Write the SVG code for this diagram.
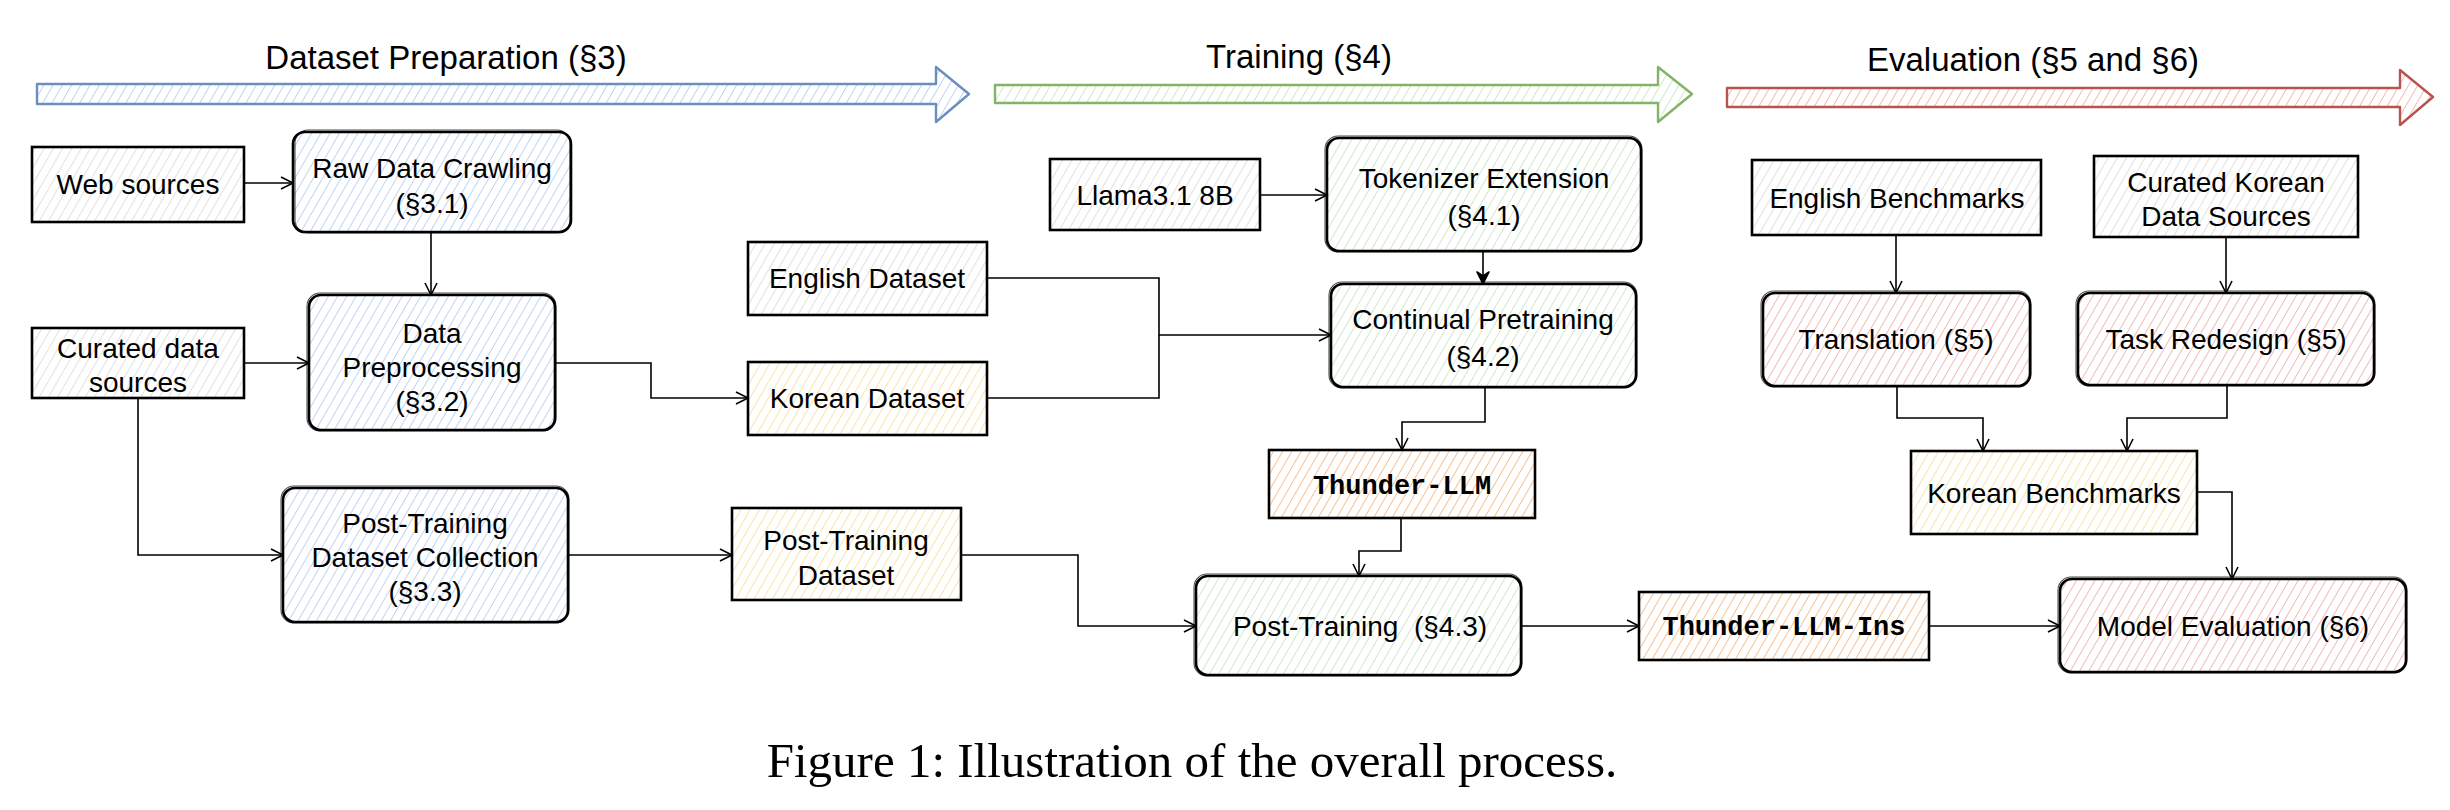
<svg xmlns="http://www.w3.org/2000/svg" width="2450" height="810" viewBox="0 0 2450 810">
<defs>
<pattern id="hGray" patternUnits="userSpaceOnUse" width="8" height="8" patternTransform="rotate(30)"><line x1="0" y1="0" x2="0" y2="8" stroke="#d4d4d4" stroke-width="1.4"/></pattern>
<pattern id="hBlue" patternUnits="userSpaceOnUse" width="8" height="8" patternTransform="rotate(30)"><line x1="0" y1="0" x2="0" y2="8" stroke="#b3cdf1" stroke-width="1.7"/></pattern>
<pattern id="hGreen" patternUnits="userSpaceOnUse" width="8" height="8" patternTransform="rotate(30)"><line x1="0" y1="0" x2="0" y2="8" stroke="#c8e4c2" stroke-width="1.7"/></pattern>
<pattern id="hRed" patternUnits="userSpaceOnUse" width="8" height="8" patternTransform="rotate(30)"><line x1="0" y1="0" x2="0" y2="8" stroke="#f2aeaa" stroke-width="1.7"/></pattern>
<pattern id="hYellow" patternUnits="userSpaceOnUse" width="8" height="8" patternTransform="rotate(30)"><line x1="0" y1="0" x2="0" y2="8" stroke="#f5e1a0" stroke-width="1.7"/></pattern>
<pattern id="hOrange" patternUnits="userSpaceOnUse" width="8" height="8" patternTransform="rotate(30)"><line x1="0" y1="0" x2="0" y2="8" stroke="#f6bb86" stroke-width="1.8"/></pattern>
<marker id="arr" markerUnits="userSpaceOnUse" markerWidth="16" markerHeight="16" refX="13" refY="7" orient="auto">
<path d="M1,1 L13,7 L1,13" fill="none" stroke="#000" stroke-width="1.6" stroke-linejoin="round"/>
</marker>
<marker id="arrB" markerUnits="userSpaceOnUse" markerWidth="16" markerHeight="16" refX="13" refY="7" orient="auto">
<path d="M1,1 L13,7 L1,13 L5,7 Z" fill="#000" stroke="#000" stroke-width="1.6" stroke-linejoin="round"/>
</marker>
</defs>
<style>
.t{font-family:"Liberation Sans",Arial,sans-serif;font-size:28px;fill:#000;text-anchor:middle}
.b{font-family:"Liberation Mono","Courier New",monospace;font-size:27px;font-weight:bold;fill:#000;text-anchor:middle}
.h{font-family:"Liberation Sans",Arial,sans-serif;font-size:33px;fill:#000;text-anchor:middle}
.cap{font-family:"Liberation Serif","Times New Roman",serif;font-size:49px;fill:#000;text-anchor:middle}
.box{stroke:#000;stroke-width:2.6}
.box2{fill:none;stroke:#000;stroke-width:1.1;opacity:0.7}
.c{fill:none;stroke:#000;stroke-width:1.6}
</style>
<rect width="2450" height="810" fill="#fff"/>

<g id="banners">
<g id="banner-dataset">
<polygon points="37,84 936,84 936,67 969,94 936,122 936,104 37,104" fill="url(#hBlue)" stroke="#6c8ebf" stroke-width="2.4" stroke-linejoin="round"/>
<text class="h" x="446" y="69">Dataset Preparation (§3)</text>
</g>
<g id="banner-training">
<polygon points="995,85 1658,85 1658,67 1692,94 1658,122 1658,103 995,103" fill="url(#hGreen)" stroke="#82b366" stroke-width="2.4" stroke-linejoin="round"/>
<text class="h" x="1299" y="68">Training (§4)</text>
</g>
<g id="banner-eval">
<polygon points="1727,88 2400,88 2400,70 2433,97 2400,125 2400,107 1727,107" fill="url(#hRed)" stroke="#b85450" stroke-width="2.4" stroke-linejoin="round"/>
<text class="h" x="2033" y="71">Evaluation (§5 and §6)</text>
</g>
</g>

<g id="connectors">
<path class="c" d="M244,183 L293,183" marker-end="url(#arr)"/>
<path class="c" d="M431,232 L431,295" marker-end="url(#arr)"/>
<path class="c" d="M244,363 L309,363" marker-end="url(#arr)"/>
<path class="c" d="M555,363 L651,363 L651,398 L748,398" marker-end="url(#arr)"/>
<path class="c" d="M138,398 L138,555 L283,555" marker-end="url(#arr)"/>
<path class="c" d="M568,555 L732,555" marker-end="url(#arr)"/>
<path class="c" d="M961,555 L1078,555 L1078,626 L1196,626" marker-end="url(#arr)"/>
<path class="c" d="M987,278 L1159,278 L1159,335 L1331,335" marker-end="url(#arr)"/>
<path class="c" d="M987,398 L1159,398 L1159,335"/>
<path class="c" d="M1260,195 L1327,195" marker-end="url(#arr)"/>
<path class="c" d="M1483,251 L1483,284" stroke-width="2" marker-end="url(#arrB)"/>
<path class="c" d="M1485,387 L1485,422 L1402,422 L1402,450" marker-end="url(#arr)"/>
<path class="c" d="M1401,518 L1401,551 L1359,551 L1359,576" marker-end="url(#arr)"/>
<path class="c" d="M1521,626 L1639,626" marker-end="url(#arr)"/>
<path class="c" d="M1929,626 L2060,626" marker-end="url(#arr)"/>
<path class="c" d="M1896,235 L1896,293" marker-end="url(#arr)"/>
<path class="c" d="M2226,237 L2226,293" marker-end="url(#arr)"/>
<path class="c" d="M1897,386 L1897,418 L1983,418 L1983,451" marker-end="url(#arr)"/>
<path class="c" d="M2227,385 L2227,418 L2127,418 L2127,451" marker-end="url(#arr)"/>
<path class="c" d="M2197,492 L2232,492 L2232,579" marker-end="url(#arr)"/>
</g>

<g id="web-sources">
<rect class="box" x="32" y="147" width="212" height="75" fill="url(#hGray)"/>
<text class="t" x="138" y="194">Web sources</text>
</g>
<g id="raw-data-crawling">
<rect class="box" x="293" y="132" width="278" height="100" rx="12" fill="url(#hBlue)"/>
<rect class="box2" x="295" y="130" width="275" height="103" rx="13"/>
<text class="t" x="432" y="178">Raw Data Crawling</text>
<text class="t" x="432" y="213">(§3.1)</text>
</g>
<g id="data-preprocessing">
<rect class="box" x="309" y="295" width="246" height="135" rx="12" fill="url(#hBlue)"/>
<rect class="box2" x="307" y="293" width="249" height="138" rx="13"/>
<text class="t" x="432" y="343">Data</text>
<text class="t" x="432" y="377">Preprocessing</text>
<text class="t" x="432" y="411">(§3.2)</text>
</g>
<g id="curated-data-sources">
<rect class="box" x="32" y="328" width="212" height="70" fill="url(#hGray)"/>
<text class="t" x="138" y="358">Curated data</text>
<text class="t" x="138" y="392">sources</text>
</g>
<g id="post-training-dataset-collection">
<rect class="box" x="283" y="488" width="285" height="134" rx="12" fill="url(#hBlue)"/>
<rect class="box2" x="281" y="486" width="288" height="137" rx="13"/>
<text class="t" x="425" y="533">Post-Training</text>
<text class="t" x="425" y="567">Dataset Collection</text>
<text class="t" x="425" y="601">(§3.3)</text>
</g>
<g id="english-dataset">
<rect class="box" x="748" y="242" width="239" height="73" fill="url(#hGray)"/>
<text class="t" x="867" y="288">English Dataset</text>
</g>
<g id="korean-dataset">
<rect class="box" x="748" y="362" width="239" height="73" fill="url(#hYellow)"/>
<text class="t" x="867" y="408">Korean Dataset</text>
</g>
<g id="post-training-dataset">
<rect class="box" x="732" y="508" width="229" height="92" fill="url(#hYellow)"/>
<text class="t" x="846" y="550">Post-Training</text>
<text class="t" x="846" y="585">Dataset</text>
</g>
<g id="llama">
<rect class="box" x="1050" y="159" width="210" height="71" fill="url(#hGray)"/>
<text class="t" x="1155" y="205">Llama3.1 8B</text>
</g>
<g id="tokenizer-extension">
<rect class="box" x="1327" y="138" width="314" height="113" rx="12" fill="url(#hGreen)"/>
<rect class="box2" x="1325" y="136" width="317" height="116" rx="13"/>
<text class="t" x="1484" y="188">Tokenizer Extension</text>
<text class="t" x="1484" y="225">(§4.1)</text>
</g>
<g id="continual-pretraining">
<rect class="box" x="1331" y="284" width="305" height="103" rx="12" fill="url(#hGreen)"/>
<rect class="box2" x="1329" y="282" width="308" height="106" rx="13"/>
<text class="t" x="1483" y="329">Continual Pretraining</text>
<text class="t" x="1483" y="366">(§4.2)</text>
</g>
<g id="thunder-llm">
<rect class="box" x="1269" y="450" width="266" height="68" fill="url(#hOrange)"/>
<text class="b" x="1402" y="494">Thunder-LLM</text>
</g>
<g id="post-training">
<rect class="box" x="1196" y="576" width="325" height="99" rx="12" fill="url(#hGreen)"/>
<rect class="box2" x="1194" y="574" width="328" height="102" rx="13"/>
<text class="t" x="1360" y="636" xml:space="preserve">Post-Training  (§4.3)</text>
</g>
<g id="thunder-llm-ins">
<rect class="box" x="1639" y="592" width="290" height="68" fill="url(#hOrange)"/>
<text class="b" x="1784" y="635">Thunder-LLM-Ins</text>
</g>
<g id="english-benchmarks">
<rect class="box" x="1752" y="160" width="289" height="75" fill="url(#hGray)"/>
<text class="t" x="1897" y="208">English Benchmarks</text>
</g>
<g id="curated-korean-data-sources">
<rect class="box" x="2094" y="156" width="264" height="81" fill="url(#hGray)"/>
<text class="t" x="2226" y="192">Curated Korean</text>
<text class="t" x="2226" y="226">Data Sources</text>
</g>
<g id="translation">
<rect class="box" x="1763" y="293" width="267" height="93" rx="12" fill="url(#hRed)"/>
<rect class="box2" x="1761" y="291" width="270" height="96" rx="13"/>
<text class="t" x="1896" y="349">Translation (§5)</text>
</g>
<g id="task-redesign">
<rect class="box" x="2078" y="293" width="296" height="92" rx="12" fill="url(#hRed)"/>
<rect class="box2" x="2076" y="291" width="299" height="95" rx="13"/>
<text class="t" x="2226" y="349">Task Redesign (§5)</text>
</g>
<g id="korean-benchmarks">
<rect class="box" x="1911" y="451" width="286" height="83" fill="url(#hYellow)"/>
<text class="t" x="2054" y="503">Korean Benchmarks</text>
</g>
<g id="model-evaluation">
<rect class="box" x="2060" y="579" width="346" height="93" rx="12" fill="url(#hRed)"/>
<rect class="box2" x="2058" y="577" width="349" height="96" rx="13"/>
<text class="t" x="2233" y="636">Model Evaluation (§6)</text>
</g>

<text class="cap" x="1192" y="777">Figure 1: Illustration of the overall process.</text>
</svg>
